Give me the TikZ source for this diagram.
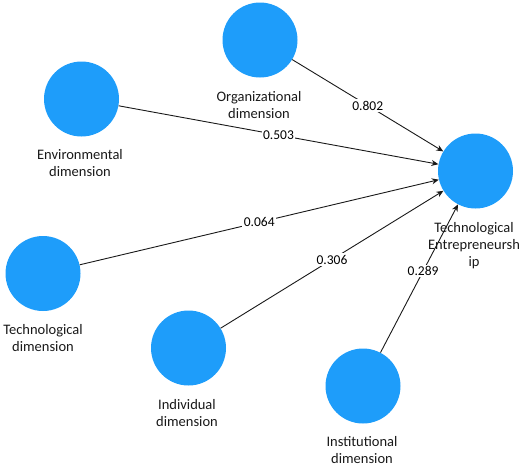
\documentclass[tikz,border=0pt]{standalone}
\usepackage{fontspec}
\setmainfont{Carlito}
\usetikzlibrary{arrows.meta}
\definecolor{lvblue}{RGB}{30,157,250}
\begin{document}
\begin{tikzpicture}[x=1pt,y=-1pt,
  lv/.style={circle,fill=lvblue,minimum size=75pt,inner sep=0pt},
  lab/.style={align=center,inner sep=1pt,font=\fontsize{14.5}{17}\selectfont,text=black!90},
  path/.style={draw=black!90,line width=0.9pt,-{Stealth[length=7pt,width=6pt]}},
  coef/.style={fill=white,inner sep=1.5pt,font=\fontsize{13.5}{15}\selectfont}]
\useasboundingbox (0,0) rectangle (520,467);
\node[lv] (org) at (260,40) {};
\node[lv] (env) at (81.5,99) {};
\node[lv] (tec) at (43,273.5) {};
\node[lv] (ind) at (188.5,348) {};
\node[lv] (ins) at (363,386) {};
\node[lv] (te) at (475.5,171) {};
\node[lab] (orgl) at (259,105) {Organizational\\dimension};
\node[lab] (envl) at (80,163.5) {Environmental\\dimension};
\node[lab] (tecl) at (43,338) {Technological\\dimension};
\node[lab] (indl) at (187,413.5) {Individual\\dimension};
\node[lab] (insl) at (362,450) {Institutional\\dimension};
\node[lab] (tel) at (474,245.5) {Technological\\Entrepreneursh\\ip};
\draw[path] (org) -- node[coef] {0.802} (te);
\draw[path] (env) -- node[coef] {0.503} (te);
\draw[path] (tec) -- node[coef] {0.064} (te);
\draw[path] (ind) -- node[coef] {0.306} (te);
\draw[path] (ins) -- node[coef,pos=0.55] {0.289} (te);
\end{tikzpicture}
\end{document}
